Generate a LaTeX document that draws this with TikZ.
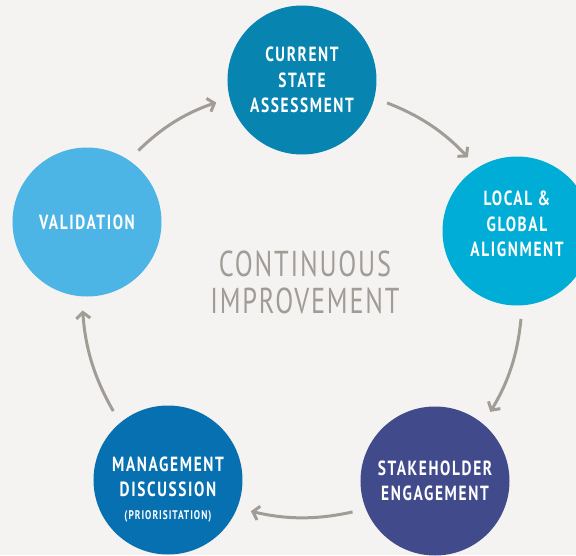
\documentclass[tikz,border=0pt]{standalone}
\usepackage{fontspec}
\newfontfamily\dinfont[FakeStretch=0.75,LetterSpace=8]{PT Sans}
\newfontfamily\dinlight[FakeStretch=0.73,LetterSpace=5]{PT Sans}
\usetikzlibrary{arrows.meta}

\definecolor{bgcol}{HTML}{F5F3F1}
\definecolor{arrowgray}{HTML}{A29C97}
\definecolor{assesscol}{HTML}{0784AF}
\definecolor{aligncol}{HTML}{00ADD6}
\definecolor{engagecol}{HTML}{414B8C}
\definecolor{mgmtcol}{HTML}{0670B1}
\definecolor{validcol}{HTML}{4DB4E6}

\begin{document}
\begin{tikzpicture}[x=1pt, y=1pt,
		phase/.style={circle, minimum size=149pt, inner sep=0pt, text=white, align=center,
			font=\dinfont\bfseries\fontsize{20.5}{25.5}\selectfont},
		cycarrow/.style={draw=arrowgray, line width=3pt, -{Straight Barb[length=6pt,width=14pt]},
			shorten <=13.5pt, shorten >=14pt, bend left=13}]
		\path[use as bounding box, fill=bgcol] (-302,-253) rectangle (274,302);
		
		\node[phase, fill=assesscol] (assess) at (0, 222) {CURRENT\\STATE\\ASSESSMENT};
		\node[phase, fill=aligncol] (align) at (215, 71) {LOCAL \&\\GLOBAL\\ALIGNMENT\\[-11.5pt]\mbox{}};
		\node[phase, fill=engagecol] (engage) at (133, -179) {STAKEHOLDER\\ENGAGEMENT};
		\node[phase, fill=mgmtcol] (mgmt) at (-134, -178) {\mbox{}\\[7.5pt]MANAGEMENT\\DISCUSSION\\[-3pt]{\fontsize{12.5}{14}\selectfont (PRIORISITATION)}};
		\node[phase, fill=validcol] (valid) at (-215, 80) {VALIDATION};
		
		\node[text=arrowgray, align=center, font=\dinlight\fontsize{36}{37}\selectfont] (hub) at (3, 20) {CONTINUOUS\\IMPROVEMENT};
		
		\path (assess.-14) edge[cycarrow] (align.122)
			(align.-86) edge[cycarrow] (engage.50)
			(engage.-158) edge[cycarrow] (mgmt.-22)
			(mgmt.130) edge[cycarrow] (valid.-94)
			(valid.56) edge[cycarrow] (assess.194);
	\end{tikzpicture}
\end{document}
